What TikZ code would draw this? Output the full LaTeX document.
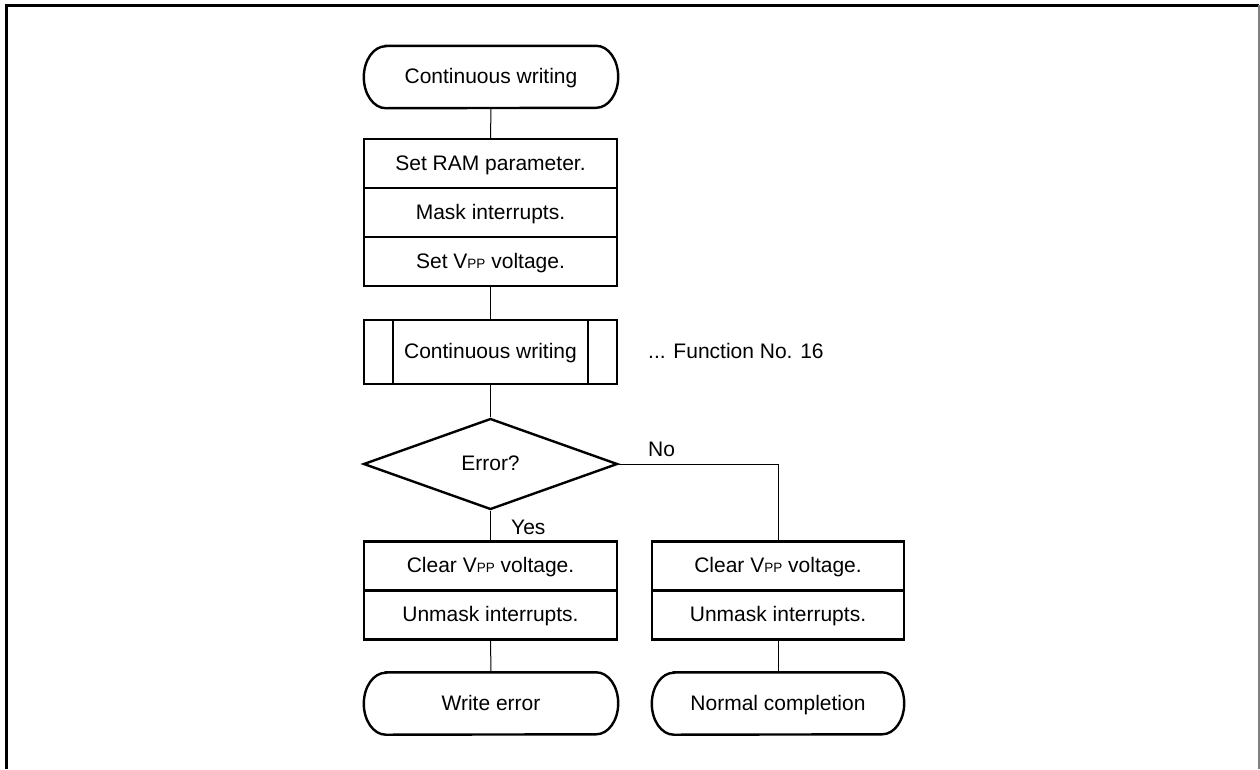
\documentclass[tikz,border=0pt]{standalone}
\usepackage{fontspec}
\setmainfont{Liberation Sans}
\usetikzlibrary{shapes.geometric}
\newcommand{\vpp}{V{\fontsize{13.5}{14}\selectfont PP}}
\newcommand{\termshape}[1]{%
  \draw[line width=2.4pt] ([xshift=22pt]#1.north west) -- ([xshift=-22pt]#1.north east)
    arc[start angle=90,end angle=-90,x radius=22pt,y radius=31pt]
    -- ([xshift=22pt]#1.south west)
    arc[start angle=270,end angle=90,x radius=22pt,y radius=31pt] -- cycle;}
\begin{document}
\begin{tikzpicture}[x=1pt,y=-1pt,
  every node/.style={font=\fontsize{21}{24}\selectfont,text height=17pt,text depth=4pt},
  term/.style={rectangle,minimum width=254pt,minimum height=62pt,inner sep=0pt},
  proc/.style={draw,line width=2.4pt,rectangle,minimum width=253pt,minimum height=49pt,inner sep=0pt},
  predef/.style={draw,line width=2.4pt,rectangle,minimum width=253pt,minimum height=64pt,inner sep=0pt},
  decis/.style={draw,line width=2.4pt,diamond,minimum width=254pt,minimum height=91pt,aspect=2.79,inner sep=0pt},
  conn/.style={line width=1pt},
  lbl/.style={anchor=west,inner sep=0pt}]
\useasboundingbox (0,0) rectangle (1260,769);
% frame
\draw[line width=3pt] (6,769) -- (6,5) -- (1259,5);
\draw[line width=1.5pt,gray] (1259,5) -- (1259,769);
% start
\node[term] (start) at (491,77) {Continuous writing};
\termshape{start}
% stack 1
\node[proc] (s1) at (490.5,163.5) {Set RAM parameter.};
\node[proc] (s2) at (490.5,212.5) {Mask interrupts.};
\node[proc] (s3) at (490.5,261.5) {Set \vpp{} voltage.};
% predefined process
\node[predef] (pre) at (490.5,352) {Continuous writing};
\draw[line width=2.4pt] ([xshift=30pt]pre.north west) -- ([xshift=30pt]pre.south west);
\draw[line width=2.4pt] ([xshift=-30pt]pre.north east) -- ([xshift=-30pt]pre.south east);
\node[lbl] (fn) at (648,352) {... Function No. 16};
% decision
\node[decis] (dia) at (490.5,464) {Error?};
\node[lbl] (no) at (648,450) {No};
\node[lbl] (yes) at (511,528) {Yes};
% left branch
\node[proc] (l1) at (490.5,566) {Clear \vpp{} voltage.};
\node[proc] (l2) at (490.5,615) {Unmask interrupts.};
\node[term] (endl) at (491,703.5) {Write error};
\termshape{endl}
% right branch
\node[proc,minimum width=252pt] (r1) at (778,566) {Clear \vpp{} voltage.};
\node[proc,minimum width=252pt] (r2) at (778,615) {Unmask interrupts.};
\node[term,minimum width=252pt] (endr) at (778,703.5) {Normal completion};
\termshape{endr}
% connectors
\draw[conn] (start.south) -- (s1.north);
\draw[conn] (s3.south) -- (pre.north);
\draw[conn] (pre.south) -- (dia.north);
\draw[conn] (dia.south) -- (l1.north);
\draw[conn] (dia.east) -| (r1.north);
\draw[conn] (l2.south) -- (endl.north);
\draw[conn] (r2.south) -- (endr.north);
\end{tikzpicture}
\end{document}
